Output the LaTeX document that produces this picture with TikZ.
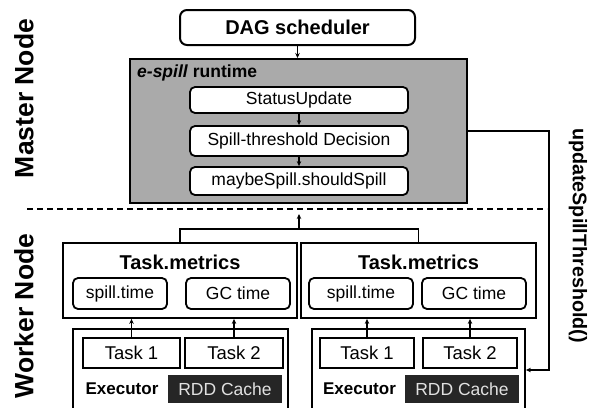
\documentclass[tikz,border=0pt]{standalone}
\usepackage{fontspec}
\setmainfont{Liberation Sans}
\usetikzlibrary{arrows.meta}
\definecolor{runtimegray}{RGB}{170,170,170}
\definecolor{cachegray}{RGB}{38,38,38}
\definecolor{cachetext}{RGB}{225,225,225}
\newcommand{\fs}[1]{\fontsize{#1}{#1}\selectfont}

\begin{document}
\begin{tikzpicture}[x=1pt, y=-1pt,
    stage/.style={draw, rounded corners=5pt, line width=1.8pt, fill=white, inner sep=0pt, font=\fs{17.5}},
    plain/.style={draw, line width=1.8pt, fill=white, inner sep=0pt},
    cache/.style={fill=cachegray, text=cachetext, inner sep=0pt, font=\fs{17.5}, minimum width=114pt, minimum height=28pt},
    flow/.style={line width=1.4pt, -{Stealth[length=5pt,width=4.5pt]}},
    side/.style={font=\bfseries\fs{26.5}}]
   \clip (0,0) rectangle (591,407);
   \fill[white] (0,0) rectangle (591,407);

   % master node
   \node[stage, font=\bfseries\fs{20}, line width=2pt, rounded corners=7pt, minimum width=235pt, minimum height=35pt] (dag) at (297.5,27.5) {DAG scheduler};
   \node[draw, line width=2pt, fill=runtimegray, minimum width=337pt, minimum height=144pt] (runtime) at (298.5,131) {};
   \node[anchor=west, inner sep=0pt, font=\bfseries\fs{17.5}] (rtitle) at (137,73) {\textit{e-spill} runtime};
   \node[stage, minimum width=218pt, minimum height=26pt] (status) at (299,100) {StatusUpdate};
   \node[stage, minimum width=218pt, minimum height=30pt] (decision) at (299,141) {Spill-threshold Decision};
   \node[stage, minimum width=218pt, minimum height=28pt] (maybe) at (299,181) {maybeSpill.shouldSpill};

   \draw[flow] (dag.south) -- (dag.south |- runtime.north);
   \draw[flow] (status) -- (decision);
   \draw[flow] (decision) -- (maybe);

   \node[side, rotate=90] (master) at (24,98.5) {Master Node};
   \node[side, rotate=90] (worker) at (24,316) {Worker Node};
   \node[font=\bfseries\fs{19.7}, rotate=-90] (update) at (578,235.5) {updateSpillThreshold()};

   \coordinate (dl) at (27,209);
   \coordinate (dr) at (547,209);
   \draw[line width=1.3pt, dash pattern=on 6pt off 4pt] (dl) -- (dr);

   % worker node
   \node[plain, minimum width=234pt, minimum height=75pt] (metrics1) at (180,280.5) {};
   \node[plain, minimum width=235pt, minimum height=75pt] (metrics2) at (418.5,280.5) {};
   \node[font=\bfseries\fs{20}] (mtitle1) at (180,262) {Task.metrics};
   \node[font=\bfseries\fs{20}] (mtitle2) at (418.5,262) {Task.metrics};
   \node[stage, minimum width=94pt, minimum height=31pt] (spill1) at (120,293.5) {spill.time};
   \node[stage, minimum width=104pt, minimum height=31pt] (gc1) at (238,293.5) {GC time};
   \node[stage, minimum width=104pt, minimum height=31pt] (spill2) at (361,293.5) {spill.time};
   \node[stage, minimum width=104pt, minimum height=31pt] (gc2) at (474,293.5) {GC time};

   \node[plain, minimum width=215pt, minimum height=96pt] (exec1) at (180.5,377) {};
   \node[plain, minimum width=213pt, minimum height=96pt] (exec2) at (418.5,377) {};
   \node[plain, font=\fs{18.5}, minimum width=97pt, minimum height=30pt] (task1a) at (131.5,353) {Task 1};
   \node[plain, font=\fs{18.5}, minimum width=98pt, minimum height=30pt] (task2a) at (234,353) {Task 2};
   \node[plain, font=\fs{18.5}, minimum width=94pt, minimum height=30pt] (task1b) at (367,353) {Task 1};
   \node[plain, font=\fs{18.5}, minimum width=94pt, minimum height=30pt] (task2b) at (470,353) {Task 2};
   \node[font=\bfseries\fs{17}] (exlabel1) at (122,389) {Executor};
   \node[font=\bfseries\fs{17}] (exlabel2) at (359.5,389) {Executor};
   \node[cache] (cache1) at (225,389) {RDD Cache};
   \node[cache] (cache2) at (462,389) {RDD Cache};

   \draw[flow] (task1a.north) -- (task1a.north |- metrics1.south);
   \draw[flow] (task2a.north) -- (task2a.north |- metrics1.south);
   \draw[flow] (task1b.north) -- (task1b.north |- metrics2.south);
   \draw[flow] (task2b.north) -- (task2b.north |- metrics2.south);

   \coordinate (join) at (299,229);
   \coordinate (sync) at (299,214);
   \draw[line width=1.4pt] (metrics1.north) |- (join) -| (metrics2.north);
   \draw[flow] (join) -- (sync);

   \coordinate (bend) at (549,370);
   \draw[flow] (runtime.east) -| (bend) -- (bend -| exec2.east);
 \end{tikzpicture}
\end{document}
